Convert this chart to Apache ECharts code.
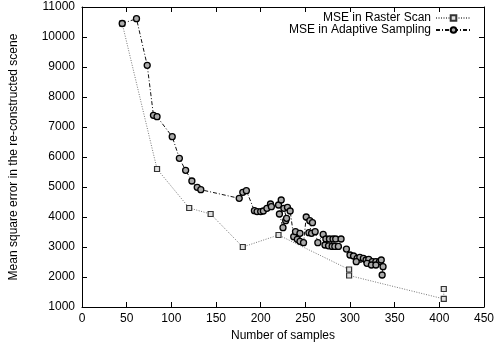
<!DOCTYPE html>
<html>
<head>
<meta charset="utf-8">
<script src="https://cdn.jsdelivr.net/npm/echarts@6/dist/echarts.min.js"></script>
<style>html,body{margin:0;padding:0;background:#fff}#c{width:497px;height:347px}</style>
</head>
<body>
<div id="c"></div>
<script>
const seriesNames = ['MSE in Raster Scan', 'MSE in Adaptive Sampling'];
const rasterX = [45, 84, 120, 144, 180, 220, 299, 299, 405, 405];
const rasterY = [10450, 5600, 4300, 4100, 3000, 3400, 2250, 2050, 1270, 1600];
const adaptiveX = [45, 61, 73, 80, 84, 101, 109, 116, 123, 129, 133, 176, 180, 184,
  193, 196, 200, 203, 207, 211, 212, 220, 223, 221, 225, 228, 229, 226, 230, 233,
  237, 239, 241, 244, 244, 248, 251, 255, 258, 254, 257, 261, 264, 270, 273, 277, 281, 284, 290,
  272, 276, 280, 283, 287, 296, 300, 304, 308, 311, 315, 318, 321, 325, 329, 333, 335,
  307, 319, 324, 329, 337, 336];
const adaptiveY = [10450, 10610, 9056, 7390, 7343, 6678, 5956, 5556, 5200, 4990, 4910, 4622, 4823, 4878,
  4210, 4180, 4180, 4200, 4290, 4433, 4343, 4400, 4567, 4100, 3643, 3877, 3956, 4290, 4323, 4200,
  3343, 3510, 3256, 3456, 3190, 3143, 4000, 3876, 3810, 3477, 3456, 3510, 3143, 3420, 3267, 3267, 3267, 3267, 3267,
  3067, 3040, 3020, 3020, 3020, 2930, 2733, 2700, 2622, 2657, 2622, 2567, 2590, 2510, 2510, 2510, 2567,
  2510, 2456, 2400, 2400, 2344, 2067];
const xTicks = {min: 0, max: 450, interval: 50};
const yTicks = {min: 1000, max: 11000, interval: 1000};

const font = 'Liberation Sans, Arial, Helvetica, sans-serif';
const chart = echarts.init(document.getElementById('c'), null, {renderer: 'canvas'});
const zip = (xs, ys) => xs.map((x, i) => [x, ys[i]]);
const axisCommon = {
  axisLine: {show: true, onZero: false, lineStyle: {color: '#000', width: 1}},
  axisTick: {show: true, inside: true, length: 5, lineStyle: {color: '#000'}},
  splitLine: {show: false}
};
chart.setOption({
  animation: false,
  backgroundColor: '#fff',
  grid: {left: 80, right: 12, top: 7, bottom: 40, containLabel: false},
  xAxis: [
    Object.assign({type: 'value', position: 'bottom', min: xTicks.min, max: xTicks.max, interval: xTicks.interval,
      name: 'Number of samples', nameLocation: 'middle', nameGap: 21,
      nameTextStyle: {fontFamily: font, fontSize: 12, color: '#000'},
      axisLabel: {fontFamily: font, fontSize: 12, color: '#000', margin: 6, formatter: v => String(v)}}, axisCommon),
    Object.assign({type: 'value', position: 'top', min: xTicks.min, max: xTicks.max, interval: xTicks.interval,
      axisLabel: {show: false}}, axisCommon)
  ],
  yAxis: [
    Object.assign({type: 'value', position: 'left', min: yTicks.min, max: yTicks.max, interval: yTicks.interval,
      name: 'Mean square error in the re-constructed scene', nameLocation: 'middle', nameGap: 62,
      nameTextStyle: {fontFamily: font, fontSize: 12, color: '#000'},
      axisLabel: {fontFamily: font, fontSize: 12, color: '#000', margin: 7, formatter: v => String(v)}}, axisCommon),
    Object.assign({type: 'value', position: 'right', min: yTicks.min, max: yTicks.max, interval: yTicks.interval,
      axisLabel: {show: false}}, axisCommon)
  ],
  legend: [
    {data: [seriesNames[0]], right: 25, top: 12, orient: 'vertical', align: 'right',
      itemWidth: 35, itemHeight: 7, padding: 0,
      textStyle: {fontFamily: font, fontSize: 12, color: '#000'}},
    {data: [seriesNames[1]], right: 25, top: 24, orient: 'vertical', align: 'right',
      itemWidth: 35, itemHeight: 7, padding: 0,
      textStyle: {fontFamily: font, fontSize: 12, color: '#000'}}
  ],
  series: [
    {name: seriesNames[0], type: 'line', data: zip(rasterX, rasterY),
      symbol: 'rect', symbolSize: 5,
      lineStyle: {color: '#777', width: 1, type: [1, 1.5]},
      itemStyle: {color: '#e0e0e0', borderColor: '#333', borderWidth: 1.2}},
    {name: seriesNames[1], type: 'line', data: zip(adaptiveX, adaptiveY),
      symbol: 'circle', symbolSize: 6,
      lineStyle: {color: '#111', width: 1, type: [4, 2, 1, 2]},
      itemStyle: {color: '#aaa', borderColor: '#000', borderWidth: 1.3}}
  ]
});
</script>
</body>
</html>
